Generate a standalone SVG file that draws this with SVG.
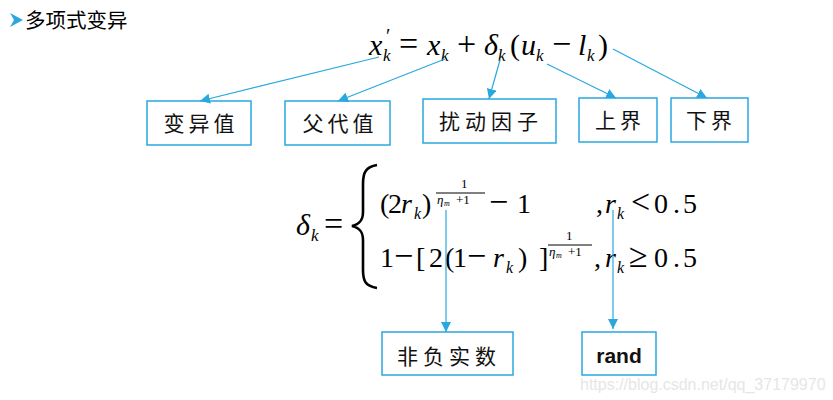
<svg xmlns="http://www.w3.org/2000/svg" width="833" height="400" viewBox="0 0 833 400">
<defs>
<marker id="ah" viewBox="0 0 10 10" refX="10" refY="5" markerWidth="10" markerHeight="10" markerUnits="userSpaceOnUse" orient="auto">
<path d="M0,0 L10,5 L0,10 z" fill="#29A8E0"/>
</marker>
<style>
.box{fill:#fff;stroke:#29A8E0;stroke-width:1.5}
.con{stroke:#29A8E0;stroke-width:1.2;fill:none;marker-end:url(#ah)}
.cjk{font-family:"Noto Sans CJK SC",sans-serif;font-size:21px;fill:#111;text-anchor:middle}
.m{font-family:"Liberation Serif","Times New Roman",serif;fill:#000}
.i{font-style:italic}
.op{font-size:34px}
.s{font-style:italic;font-size:17px}
.s2{font-style:italic;font-size:16px}
</style>
</defs>
<rect width="833" height="400" fill="#fff"/>
<g id="title">
<polygon points="10,13 23,20 10,27 14,20" fill="#29A8E0"/>
<text x="25" y="28" style="font-family:'Noto Sans CJK SC',sans-serif;font-size:20.5px" fill="#000">多项式变异</text>
</g>
<g id="formula1">
<text class="m" font-size="30" y="55"><tspan class="i" x="369" y="55">x</tspan><tspan x="386" y="43" font-size="20">′</tspan><tspan class="s" x="383" y="61">k</tspan><tspan class="op" x="399" y="55">=</tspan><tspan class="i" x="427" y="55">x</tspan><tspan class="s" x="441" y="61">k</tspan><tspan class="op" x="457" y="55">+</tspan><tspan class="i" x="484" y="55">δ</tspan><tspan class="s" x="498" y="61">k</tspan><tspan x="510" y="55">(</tspan><tspan class="i" x="521" y="55">u</tspan><tspan class="s" x="536" y="61">k</tspan><tspan class="op" x="552" y="55">−</tspan><tspan class="i" x="578" y="55">l</tspan><tspan class="s" x="587" y="61">k</tspan><tspan x="598" y="55">)</tspan></text>
</g>
<g id="formula2">
<text class="m" font-size="30" y="235"><tspan class="i" x="296" y="235">δ</tspan><tspan class="s" x="311" y="241">k</tspan><tspan class="op" x="324" y="235">=</tspan></text>
<path d="M377,165 C366,167 363,172 363,184 L363,212 C363,220 360,224 352,226 C360,228 363,232 363,240 L363,270 C363,282 366,286 377,288" fill="none" stroke="#000" stroke-width="2.6"/>
<text class="m" font-size="28" y="213"><tspan x="380" y="213">(</tspan><tspan x="388">2</tspan><tspan class="i" x="401">r</tspan><tspan class="s2" x="414" y="219">k</tspan><tspan x="422" y="213">)</tspan><tspan font-size="13" x="461" y="188">1</tspan><tspan class="i" font-size="13" x="437" y="204">η</tspan><tspan class="i" font-size="8" x="444" y="206">m</tspan><tspan font-size="13" x="456" y="204">+1</tspan><tspan class="op" x="489" y="213">−</tspan><tspan x="517">1</tspan><tspan x="596">,</tspan><tspan class="i" x="605">r</tspan><tspan class="s2" x="617" y="219">k</tspan><tspan class="op" x="631" y="213">&lt;</tspan><tspan x="654">0</tspan><tspan x="673">.</tspan><tspan x="683">5</tspan></text>
<line x1="436" y1="193" x2="485" y2="193" stroke="#000" stroke-width="1"/>
<text class="m" font-size="28" y="267"><tspan x="380" y="267">1</tspan><tspan class="op" x="394">−</tspan><tspan x="416">[</tspan><tspan x="429">2</tspan><tspan x="445">(</tspan><tspan x="453">1</tspan><tspan class="op" x="467">−</tspan><tspan class="i" x="493">r</tspan><tspan class="s2" x="506" y="273">k</tspan><tspan x="518" y="267">)</tspan><tspan x="539">]</tspan><tspan font-size="13" x="566" y="240">1</tspan><tspan class="i" font-size="13" x="549" y="256">η</tspan><tspan class="i" font-size="8" x="556" y="258">m</tspan><tspan font-size="13" x="568" y="256">+1</tspan><tspan x="594" y="267">,</tspan><tspan class="i" x="605">r</tspan><tspan class="s2" x="617" y="273">k</tspan><tspan class="op" x="629" y="267">≥</tspan><tspan x="654">0</tspan><tspan x="673">.</tspan><tspan x="683">5</tspan></text>
<line x1="548" y1="245" x2="592" y2="245" stroke="#000" stroke-width="1"/>
</g>
<g id="n1"><rect class="box" x="147" y="101" width="104" height="44"/><text class="cjk" x="201" y="131" letter-spacing="4">变异值</text></g>
<g id="n2"><rect class="box" x="285" y="101" width="105" height="44"/><text class="cjk" x="340" y="131" letter-spacing="4">父代值</text></g>
<g id="n3"><rect class="box" x="423" y="99" width="133" height="44"/><text class="cjk" x="491" y="129" letter-spacing="5">扰动因子</text></g>
<g id="n4"><rect class="box" x="579" y="98" width="78" height="44"/><text class="cjk" x="620" y="128" letter-spacing="4">上界</text></g>
<g id="n5"><rect class="box" x="671" y="98" width="77" height="44"/><text class="cjk" x="711" y="128" letter-spacing="4">下界</text></g>
<g id="n6"><rect class="box" x="382" y="332" width="131" height="43"/><text class="cjk" x="449" y="364" letter-spacing="5">非负实数</text></g>
<g id="n7"><rect class="box" x="582" y="332" width="74" height="43"/><text x="619" y="363" text-anchor="middle" style="font-family:'Liberation Sans',sans-serif;font-size:21px;font-weight:bold" fill="#111">rand</text></g>
<g id="connectors">
<line class="con" x1="379" y1="57" x2="200" y2="101"/>
<line class="con" x1="445" y1="59" x2="338" y2="101"/>
<line class="con" x1="500" y1="60" x2="489" y2="99"/>
<line class="con" x1="547" y1="64" x2="616" y2="98"/>
<line class="con" x1="613" y1="49" x2="707" y2="98"/>
<line class="con" x1="446" y1="210" x2="446" y2="332"/>
<line class="con" x1="613" y1="210" x2="613" y2="329"/>
</g>
<text x="580" y="390" style="font-family:'Liberation Sans',sans-serif;font-size:16px" fill="#E6E6E6">https://blog.csdn.net/qq_37179970</text>
</svg>
